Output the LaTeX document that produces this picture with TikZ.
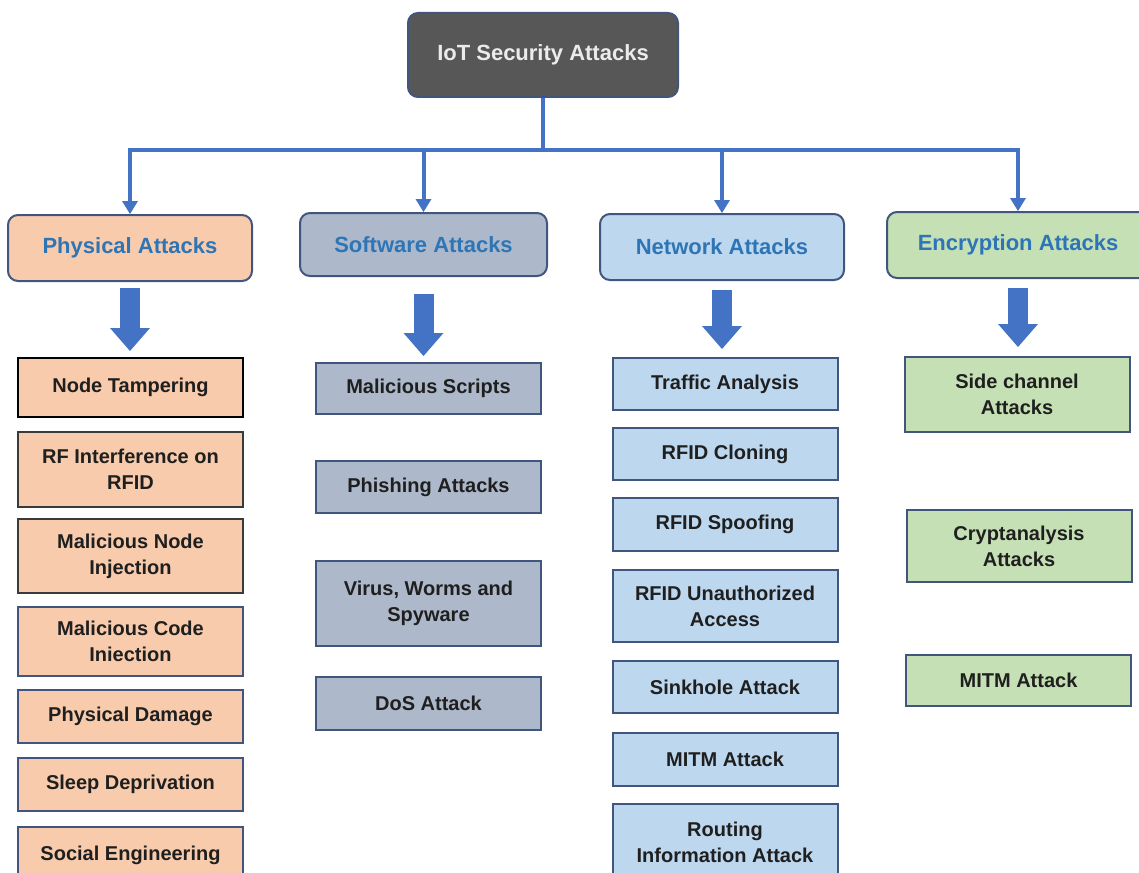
\documentclass[tikz,border=0pt]{standalone}
\usepackage{fontspec}
\setmainfont{Liberation Sans}
\usepackage{xcolor}
\usetikzlibrary{arrows.meta}
\usetikzlibrary{positioning}

\definecolor{physfill}{HTML}{F8CBAD}
\definecolor{softfill}{HTML}{ADB9CA}
\definecolor{netfill}{HTML}{BDD7EE}
\definecolor{encfill}{HTML}{C5E0B4}
\definecolor{titlefill}{HTML}{575757}
\definecolor{linkblue}{HTML}{4472C4}
\definecolor{headtext}{HTML}{2E75B6}
\definecolor{boxedge}{HTML}{41557F}
\definecolor{darkedge}{HTML}{3A3A3A}

\begin{document}
\begin{tikzpicture}[
  x=1pt, y=-1pt,
  every node/.style={align=center, inner sep=0pt},
  titlebox/.style={draw=boxedge, line width=2pt, fill=titlefill, rounded corners=10pt,
    text=white!92!black, font=\fontsize{22}{26}\selectfont\bfseries,
    minimum width=270pt, minimum height=84pt},
  headbox/.style={draw=boxedge, line width=2pt, rounded corners=10pt, text=headtext,
    font=\fontsize{22}{26}\selectfont\bfseries, minimum height=66pt},
  itembox/.style={draw=boxedge, line width=2pt, text=black!88,
    font=\fontsize{20}{26}\selectfont\bfseries, minimum width=225pt},
  link/.style={draw=linkblue, line width=4pt},
  bigarrow/.style={draw=linkblue, line width=20pt},
]
\tikzset{>={Triangle[length=13pt 0 0, width=16pt 0 0, line width=0pt]}}

\useasboundingbox (0,0) rectangle (1139,872);

% Top node
\node[titlebox] (title) at (543,55) {IoT Security Attacks};

% Category boxes
\node[headbox, fill=physfill, minimum width=244pt] (phys) at (130,248) {Physical Attacks};
\node[headbox, fill=softfill, minimum width=247pt, minimum height=63pt] (soft) at (423.5,244.5) {Software Attacks};
\node[headbox, fill=netfill, minimum width=244pt] (net) at (722,247) {Network Attacks};
\node[headbox, fill=encfill, minimum width=262pt] (enc) at (1018,245) {Encryption Attacks};

% Tree links
\coordinate (busy) at (0,150);
\coordinate (bus) at (title.south |- busy);
\draw[link, ->] (title.south) -- (bus) -| (phys.north);
\draw[link, ->] (bus) -| (soft.north);
\draw[link, ->] (bus) -| (net.north);
\draw[link, ->] (bus) -| (enc.north);

% Physical column
\node[itembox, fill=physfill, draw=black, minimum height=59pt] (p1) at (130.5,387.5) {Node Tampering};
\node[itembox, fill=physfill, draw=darkedge, minimum height=75pt] (p2) at (130.5,469.5) {RF Interference on\\RFID};
\node[itembox, fill=physfill, draw=darkedge, minimum height=74pt] (p3) at (130.5,556) {Malicious Node\\Injection};
\node[itembox, fill=physfill, minimum height=69pt] (p4) at (130.5,641.5) {Malicious Code\\Iniection};
\node[itembox, fill=physfill, minimum height=53pt] (p5) at (130.5,716.5) {Physical Damage};
\node[itembox, fill=physfill, minimum height=53pt] (p6) at (130.5,784.5) {Sleep Deprivation};
\node[itembox, fill=physfill, minimum height=56pt] (p7) at (130.5,855) {Social Engineering};

% Software column
\node[itembox, fill=softfill, minimum height=51pt] (s1) at (428.5,388.5) {Malicious Scripts};
\node[itembox, fill=softfill, minimum height=52pt] (s2) at (428.5,487) {Phishing Attacks};
\node[itembox, fill=softfill, minimum height=85pt] (s3) at (428.5,603.5) {Virus, Worms and\\Spyware};
\node[itembox, fill=softfill, minimum height=53pt] (s4) at (428.5,703.5) {DoS Attack};

% Network column
\node[itembox, fill=netfill, minimum height=52pt] (n1) at (725,384) {Traffic Analysis};
\node[itembox, fill=netfill, minimum height=52pt] (n2) at (725,454) {RFID Cloning};
\node[itembox, fill=netfill, minimum height=53pt] (n3) at (725,524.5) {RFID Spoofing};
\node[itembox, fill=netfill, minimum height=72pt] (n4) at (725,606) {RFID Unauthorized\\Access};
\node[itembox, fill=netfill, minimum height=52pt] (n5) at (725,687) {Sinkhole Attack};
\node[itembox, fill=netfill, minimum height=53pt] (n6) at (725,759.5) {MITM Attack};
\node[itembox, fill=netfill, minimum height=76pt] (n7) at (725,842) {Routing\\Information Attack};

% Encryption column
\node[itembox, fill=encfill, minimum height=75pt] (e1) at (1017,394.5) {Side channel\\Attacks};
\node[itembox, fill=encfill, minimum height=72pt] (e2) at (1019,546) {Cryptanalysis\\Attacks};
\node[itembox, fill=encfill, minimum height=51pt] (e3) at (1018.5,680.5) {MITM Attack};

% Block arrows
\draw[bigarrow, -{Triangle[length=23pt 0 0, width=40pt 0 0, line width=0pt]}, shorten <=6pt, shorten >=6pt]
  (phys.south) -- (phys.south |- p1.north);
\draw[bigarrow, -{Triangle[length=23pt 0 0, width=40pt 0 0, line width=0pt]}, shorten <=17pt, shorten >=6pt]
  (soft.south) -- (soft.south |- s1.north);
\draw[bigarrow, -{Triangle[length=23pt 0 0, width=40pt 0 0, line width=0pt]}, shorten <=9pt, shorten >=8pt]
  (net.south) -- (net.south |- n1.north);
\draw[bigarrow, -{Triangle[length=23pt 0 0, width=40pt 0 0, line width=0pt]}, shorten <=9pt, shorten >=9pt]
  (enc.south) -- (enc.south |- e1.north);

\end{tikzpicture}
\end{document}
